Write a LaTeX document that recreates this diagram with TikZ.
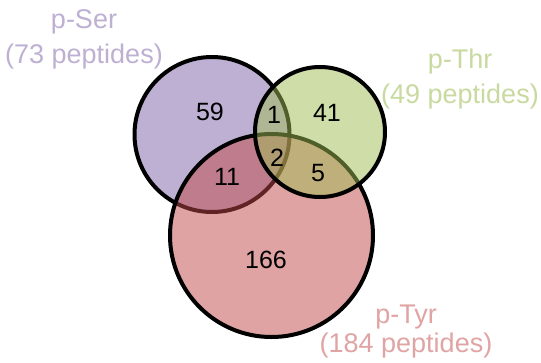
\documentclass[tikz,border=0pt]{standalone}
\usepackage{fontspec}
\setmainfont{Liberation Sans}
\definecolor{serC}{RGB}{190,176,211}
\definecolor{thrF}{RGB}{161,189,85}
\definecolor{tyrF}{RGB}{193,73,73}
\definecolor{thrL}{RGB}{200,218,160}
\definecolor{tyrL}{RGB}{224,164,164}
\tikzset{
  setcircle/.style={circle, draw=black, line width=4pt, inner sep=0pt, outer sep=0pt},
  num/.style={font=\fontsize{25}{30}\selectfont, text=black, inner sep=0pt},
  lab/.style={font=\fontsize{27}{32}\selectfont, inner sep=0pt, anchor=base}
}
\begin{document}
\begin{tikzpicture}[x=1pt,y=-1pt]
\useasboundingbox[fill=white] (0,0) rectangle (541,362);
\node[setcircle, fill=serC, minimum size=155pt] (ser) at (212,134.5) {};
\node[setcircle, fill=tyrF, fill opacity=0.5, minimum size=203pt] (tyr) at (271.5,235.5) {};
\node[setcircle, fill=thrF, fill opacity=0.5, minimum size=130pt] (thr) at (320,132) {};
\node[num] (n59) at (210,112) {59};
\node[num] (n1) at (274,115) {1};
\node[num] (n41) at (327,113) {41};
\node[num] (n2) at (277,158) {2};
\node[num] (n5) at (318,173) {5};
\node[num] (n11) at (227,177) {11};
\node[num] (n166) at (266,260) {166};
\node[lab, text=serC] (lser1) at (84,28) {p-Ser};
\node[lab, text=serC] (lser2) at (84,63) {(73 peptides)};
\node[lab, text=thrL] (lthr1) at (460,68) {p-Thr};
\node[lab, text=thrL] (lthr2) at (460,103) {(49 peptides)};
\node[lab, text=tyrL] (ltyr1) at (406,323) {p-Tyr};
\node[lab, text=tyrL] (ltyr2) at (406,352) {(184 peptides)};
\end{tikzpicture}
\end{document}
